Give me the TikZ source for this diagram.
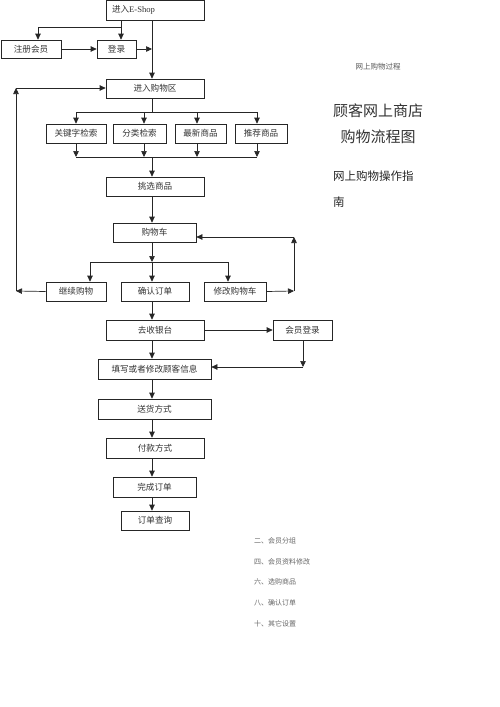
\documentclass[tikz,border=0pt]{standalone}
\usepackage{fontspec}
\newfontfamily\cjk{Noto Sans CJK SC}
\newfontfamily\latinserif{Liberation Serif}
\usetikzlibrary{arrows.meta,calc}
\begin{document}
\begin{tikzpicture}[x=1pt,y=-1pt,
  box/.style={draw=black!85,line width=0.7pt,inner sep=0pt,minimum height=19pt,font=\cjk\fontsize{8.6}{9}\selectfont,text=black!80},
  arr/.style={line width=0.7pt,draw=black!85,-{Triangle[length=6pt,width=5.5pt]}},
  ln/.style={line width=0.7pt,draw=black!85},
  side/.style={font=\cjk\fontsize{7}{8}\selectfont,text=black!60,anchor=west,inner sep=0pt}]
\useasboundingbox (0,0) rectangle (500,707);
\fill[white] (0,0) rectangle (500,707);
\coordinate (spine) at (152,0);
% boxes
\node[box,minimum height=20pt,text width=86pt,inner xsep=6pt,align=left] (eshop) at (155,10) {进入{\latinserif E-Shop}};
\node[box,minimum width=60pt,minimum height=18pt] (reg) at (31,49) {注册会员};
\node[box,minimum width=39pt,minimum height=18pt] (login) at (116.5,49) {登录};
\node[box,minimum width=98pt] (area) at (155,88.5) {进入购物区};
\node[box,minimum width=60pt] (kw) at (76,133.5) {关键字检索};
\node[box,minimum width=53pt] (cat) at (139.5,133.5) {分类检索};
\node[box,minimum width=51pt] (new) at (200.5,133.5) {最新商品};
\node[box,minimum width=52pt] (rec) at (261,133.5) {推荐商品};
\node[box,minimum width=98pt] (pick) at (155,186.5) {挑选商品};
\node[box,minimum width=83pt] (cart) at (154.5,232.5) {购物车};
\node[box,minimum width=60pt] (cont) at (76,291.5) {继续购物};
\node[box,minimum width=68pt] (confirm) at (155,291.5) {确认订单};
\node[box,minimum width=62pt] (modify) at (235,291.5) {修改购物车};
\node[box,minimum width=98pt,minimum height=20pt] (cashier) at (155,330) {去收银台};
\node[box,minimum width=59pt,minimum height=20pt] (member) at (302.5,330) {会员登录};
\node[box,minimum width=113pt,minimum height=20pt] (fill) at (154.5,369) {填写或者修改顾客信息};
\node[box,minimum width=113pt,minimum height=20pt] (ship) at (154.5,409) {送货方式};
\node[box,minimum width=98pt,minimum height=20pt] (pay) at (155,448) {付款方式};
\node[box,minimum width=83pt,minimum height=20pt] (done) at (154.5,487) {完成订单};
\node[box,minimum width=68pt] (query) at (155,520.5) {订单查询};
% coordinates
\coordinate (eb) at (121,20);
\coordinate (ej) at (121,27);
\coordinate (rj) at (38,27);
\coordinate (lp1) at (16,291);
\coordinate (lp2) at (16,88);
\coordinate (d1) at (152,112);
\coordinate (d1l) at (76,112);
\coordinate (d1r) at (257,112);
\coordinate (d2) at (152,157);
\coordinate (d2l) at (76,157);
\coordinate (d2r) at (257,157);
\coordinate (c1) at (152,262);
\coordinate (c1l) at (90,262);
\coordinate (c1r) at (228,262);
\coordinate (rp1) at (294,291);
\coordinate (rp2) at (294,237);
\coordinate (mp) at (303,367);
% connectors top
\draw[arr] (eshop.south -| spine) -- (area.north -| spine);
\draw[arr] (eb) -- (login.north -| eb);
\draw[ln] (ej) -- (rj);
\draw[arr] (rj) -- (reg.north -| rj);
\draw[arr] (reg.east) -- (login.west);
\draw[arr] (login.east) -- (login.east -| spine);
% left loop
\draw[arr] (cont.west) -- (lp1);
\draw[arr] (lp1) -- (lp2);
\draw[arr] (lp2) -- (area.west |- lp2);
% search branches
\draw[ln] (area.south -| spine) -- (d1);
\draw[ln] (d1l) -- (d1r);
\draw[arr] (d1l) -- (kw.north -| d1l);
\draw[arr] (d1 -| cat.north) ++(4.5,0) -- ([xshift=4.5pt]cat.north);
\draw[arr] (d1 -| new.north) ++(-3.5,0) -- ([xshift=-3.5pt]new.north);
\draw[arr] (d1r) -- (rec.north -| d1r);
\draw[arr] (kw.south) -- (kw.south |- d2);
\draw[arr] ([xshift=4.5pt]cat.south) -- ([xshift=4.5pt]cat.south |- d2);
\draw[arr] ([xshift=-3.5pt]new.south) -- ([xshift=-3.5pt]new.south |- d2);
\draw[arr] (rec.south -| d2r) -- (d2r);
\draw[ln] (d2l) -- (d2r);
\draw[arr] (d2) -- (pick.north -| spine);
\draw[arr] (pick.south -| spine) -- (cart.north -| spine);
% cart branches
\draw[arr] (cart.south -| spine) -- (c1);
\draw[arr] (c1) -- (confirm.north -| spine);
\draw[ln] (c1l) -- (c1r);
\draw[arr] (c1l) -- (cont.north -| c1l);
\draw[arr] (c1r) -- (modify.north -| c1r);
% right loop
\draw[arr] (modify.east) -- (rp1);
\draw[arr] (rp1) -- (rp2);
\draw[arr] (rp2) -- (cart.east |- rp2);
% checkout
\draw[arr] (confirm.south -| spine) -- (cashier.north -| spine);
\draw[arr] (cashier.east) -- (member.west);
\draw[arr] (member.south -| mp) -- (mp);
\draw[arr] (mp) -- (fill.east |- mp);
\draw[arr] (cashier.south -| spine) -- (fill.north -| spine);
\draw[arr] (fill.south -| spine) -- (ship.north -| spine);
\draw[arr] (ship.south -| spine) -- (pay.north -| spine);
\draw[arr] (pay.south -| spine) -- (done.north -| spine);
\draw[arr] (done.south -| spine) -- (query.north -| spine);
% right texts
\node[font=\cjk\fontsize{7.5}{8}\selectfont,text=black!65,inner sep=0pt] (t0) at (378,67) {网上购物过程};
\node[font=\cjk\fontsize{15}{16}\selectfont,text=black!80,inner sep=0pt] (t1) at (378,111) {顾客网上商店};
\node[font=\cjk\fontsize{15}{16}\selectfont,text=black!80,inner sep=0pt] (t2) at (378,137) {购物流程图};
\node[font=\cjk\fontsize{11.5}{12}\selectfont,text=black!85,inner sep=0pt,anchor=west] (t3) at (333,176) {网上购物操作指};
\node[font=\cjk\fontsize{11.5}{12}\selectfont,text=black!85,inner sep=0pt,anchor=west] (t4) at (333,202) {南};
\node[side] (l1) at (254,541) {二、会员分组};
\node[side] (l2) at (254,562) {四、会员资料修改};
\node[side] (l3) at (254,582) {六、选购商品};
\node[side] (l4) at (254,603) {八、确认订单};
\node[side] (l5) at (254,624) {十、其它设置};
\end{tikzpicture}
\end{document}
